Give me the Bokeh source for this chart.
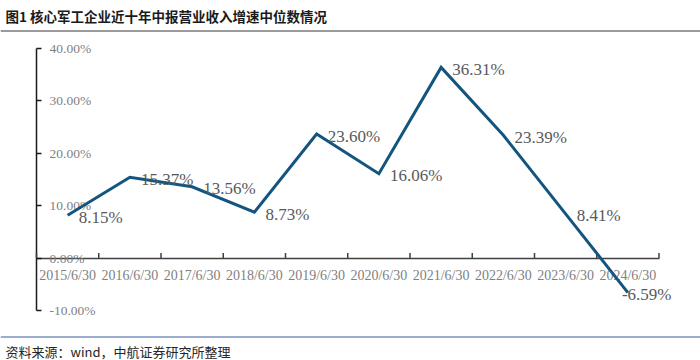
from bokeh.plotting import figure
from bokeh.models import Range1d, LinearAxis, FixedTicker, PrintfTickFormatter, Label, Span
from bokeh.embed import file_html
from bokeh.resources import INLINE
from bokeh.core.properties import value

# ---------------- data ----------------
dates = ["2015/6/30", "2016/6/30", "2017/6/30", "2018/6/30", "2019/6/30",
         "2020/6/30", "2021/6/30", "2022/6/30", "2023/6/30", "2024/6/30"]
growth = [8.15, 15.37, 13.56, 8.73, 23.60, 16.06, 36.31, 23.39, 8.41, -6.59]
y_ticks = [-10, 0, 10, 20, 30, 40]
title_text = "图1  核心军工企业近十年中报营业收入增速中位数情况"
source_text = "资料来源：wind，中航证券研究所整理"

# ---------------- layout (pixels in figure) ----------------
W, H = 700, 360
AX_LEFT, AX_RIGHT = 36, 658.5    # pixel x of first / last category boundary
Y_TOP, Y_BOT = 47.5, 310.0       # pixel y of top / bottom y tick

n = len(dates)
xs = list(range(n))
x_lo, x_hi = -0.5, n - 0.5
bounds_x = [i - 0.5 for i in range(n + 1)]
ppx = (AX_RIGHT - AX_LEFT) / (x_hi - x_lo)
x_start = x_lo - AX_LEFT / ppx
x_end = x_hi + (W - AX_RIGHT) / ppx

y_min, y_max = y_ticks[0], y_ticks[-1]
ppy = (Y_BOT - Y_TOP) / (y_max - y_min)
y_end = y_max + Y_TOP / ppy
y_start = y_min - (H - Y_BOT) / ppy

LINE_COLOR = "#14557f"
SERIF = "Liberation Serif"
CJK = "Noto Sans CJK SC"

p = figure(width=W, height=H, x_range=Range1d(x_start, x_end), y_range=Range1d(y_start, y_end),
           output_backend="svg", toolbar_location=None,
           x_axis_location=None, y_axis_location=None,
           min_border=0, min_border_left=0, min_border_right=0, min_border_top=0, min_border_bottom=0)
p.outline_line_color = None
p.background_fill_color = "white"
p.border_fill_color = "white"
p.xgrid.visible = False
p.ygrid.visible = False

# y axis (labels to the right of the axis line)
yax = LinearAxis(fixed_location=x_lo, bounds=(y_min, y_max),
                 ticker=FixedTicker(ticks=y_ticks, minor_ticks=[]),
                 formatter=PrintfTickFormatter(format="%.2f%%"))
yax.axis_line_color = "#1a1a1a"
yax.axis_line_width = 1.5
yax.major_tick_line_color = "#1a1a1a"
yax.major_tick_line_width = 1.5
yax.major_tick_out = 5
yax.major_tick_in = 0
yax.minor_tick_out = 0
yax.minor_tick_in = 0
yax.major_label_standoff = 8
yax.major_label_text_font = SERIF
yax.major_label_text_font_size = "13.5px"
yax.major_label_text_color = "#7f7f7f"
yax.level = "underlay"
p.add_layout(yax, "right")

# x axis at y = 0 with category labels at category centres
xlab = LinearAxis(fixed_location=0, bounds=(x_lo, x_hi),
                  ticker=FixedTicker(ticks=xs, minor_ticks=[]),
                  major_label_overrides={i: d for i, d in enumerate(dates)})
xlab.axis_line_color = "#404040"
xlab.axis_line_width = 1.5
xlab.major_tick_line_color = None
xlab.minor_tick_line_color = None
xlab.major_tick_in = 0
xlab.major_tick_out = 0
xlab.major_label_standoff = 10
xlab.major_label_text_font = SERIF
xlab.major_label_text_font_size = "14px"
xlab.major_label_text_color = "#7f7f7f"
xlab.level = "underlay"
p.add_layout(xlab, "below")

# boundary tick marks on the x axis (pointing up)
p.ray(x=bounds_x, y=[0] * len(bounds_x), length=5, length_units="screen",
      angle=90, angle_units="deg", line_color="#404040", line_width=1.5)

# series line
p.line(xs, growth, line_width=3, line_color=LINE_COLOR, line_join="miter")

# data labels
labels = [f"{v:.2f}%" for v in growth]
dx = [11] * (n - 1) + [-6]
dy = [2] * (n - 1) + [2]
p.text(x=xs, y=growth, text=labels, x_offset=dx, y_offset=dy,
       text_align="left", text_baseline="middle",
       text_font=value(SERIF), text_font_size="17px", text_color="#595959")

# title, rules and source
p.add_layout(Label(x=5, y=H - 5, x_units="screen", y_units="screen", text=title_text,
                   text_align="left", text_baseline="top", text_font=CJK,
                   text_font_style="bold", text_font_size="13.5px", text_color="#1a1a1a"))
p.add_layout(Span(location=H - 30.5, location_units="screen", dimension="width",
                  line_color="#7a7a7a", line_width=1.5))
p.add_layout(Span(location=H - 336.5, location_units="screen", dimension="width",
                  line_color="#3a5fa0", line_width=1))
p.add_layout(Label(x=5, y=H - 350.5, x_units="screen", y_units="screen", text=source_text,
                   text_align="left", text_baseline="middle", text_font=CJK,
                   text_font_size="13px", text_color="#262626"))

open("out.html", "w").write(file_html(p, INLINE))
